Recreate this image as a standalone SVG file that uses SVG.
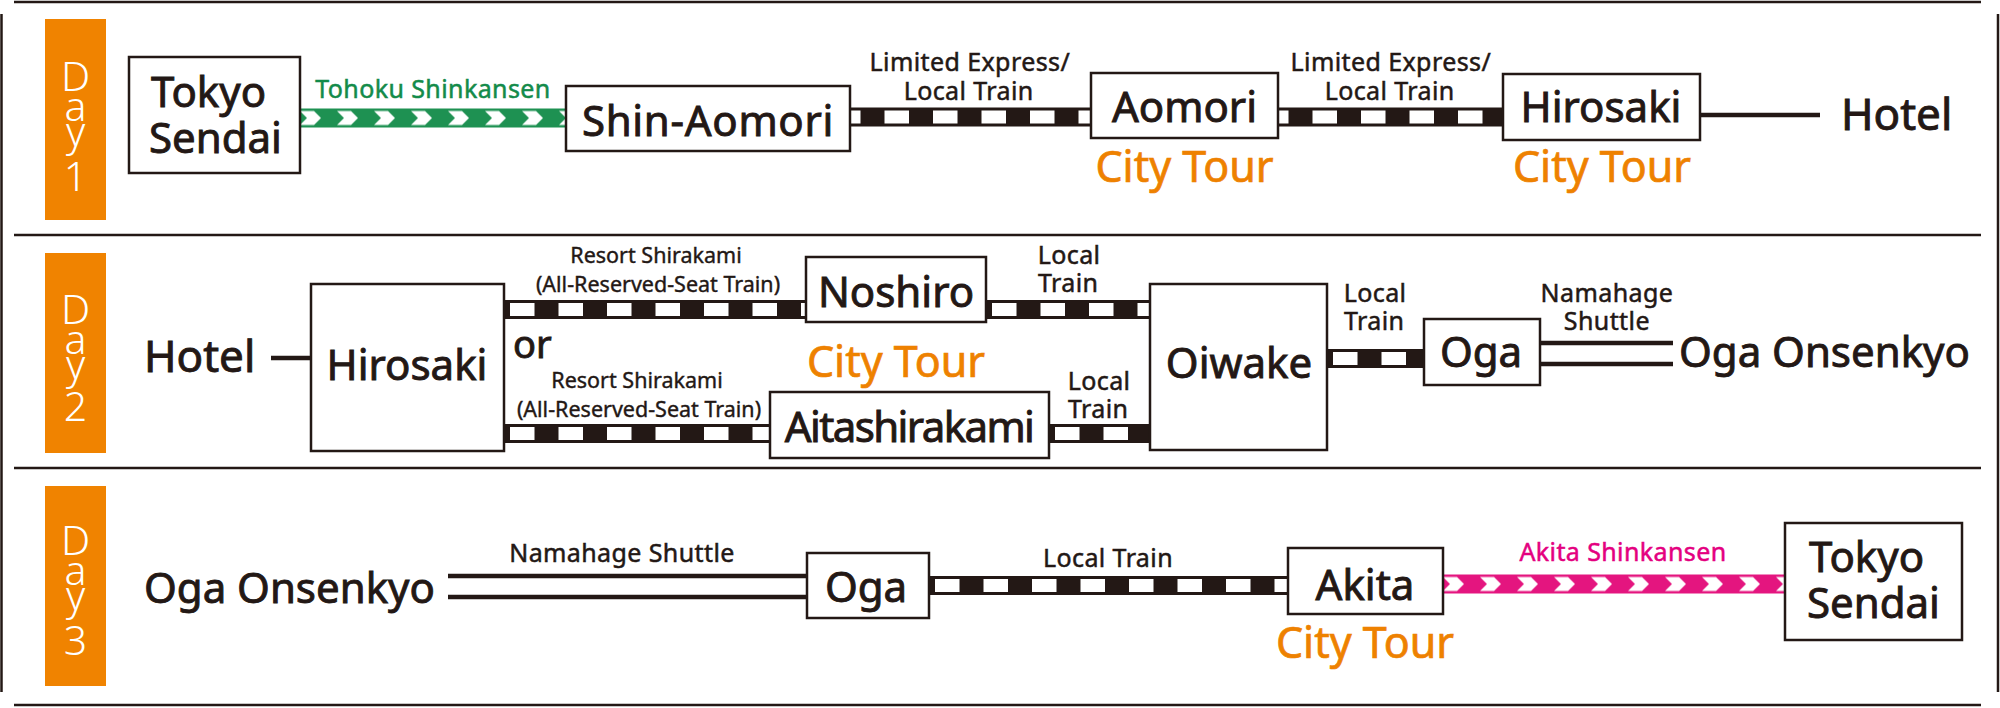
<svg xmlns="http://www.w3.org/2000/svg" width="2000" height="708" viewBox="0 0 2000 708">
<style>
text{font-family:"Noto Sans","Liberation Sans",sans-serif;fill:#231815}
.box{fill:#fff;stroke:#231815;stroke-width:2.5}
.st{font-size:42px;stroke:#231815;stroke-width:0.9}
.mid{text-anchor:middle}
.lbl{font-size:25px;letter-spacing:0.4px;stroke:#231815;stroke-width:0.5}
.c{text-anchor:middle}
.lbs{font-size:21.5px;text-anchor:middle;stroke:#231815;stroke-width:0.4}
.tour{font-size:43px;fill:#EE8100;stroke:#EE8100;stroke-width:0.7;text-anchor:middle}
.day{fill:#F08300}
.dl{fill:#fff;font-size:41px;font-weight:300;text-anchor:middle}
.frame{stroke:#231815;stroke-width:2.5;fill:none}
.blk{fill:#231815}
.dash{stroke:#fff;stroke-width:13;stroke-dasharray:24.5 24;fill:none}
.wire{stroke:#231815;stroke-width:4.5;fill:none}
</style>
<defs>
<pattern id="grn" patternUnits="userSpaceOnUse" x="300" y="108.5" width="37" height="19">
<rect width="37" height="19" fill="#1E9152"/>
<polygon points="0,2.5 14,2.5 21,9.5 14,16.5 0,16.5 7,9.5" fill="#fff"/>
</pattern>
<pattern id="pnk" patternUnits="userSpaceOnUse" x="1443" y="574.5" width="37" height="19">
<rect width="37" height="19" fill="#E4157F"/>
<polygon points="0,2.5 14,2.5 21,9.5 14,16.5 0,16.5 7,9.5" fill="#fff"/>
</pattern>
</defs>

<g id="frame">
<line class="frame" x1="14" y1="2" x2="1981" y2="2"/>
<line class="frame" x1="14" y1="235" x2="1981" y2="235"/>
<line class="frame" x1="14" y1="468" x2="1981" y2="468"/>
<line class="frame" x1="14" y1="705" x2="1981" y2="705"/>
<line class="frame" x1="1.5" y1="14" x2="1.5" y2="692"/>
<line class="frame" x1="1998" y1="14" x2="1998" y2="692"/>
</g>

<g id="day1">
<rect class="day" x="45" y="19" width="61" height="201"/>
<text class="dl" x="75.5 75.5 75.5 75.5" y="91 121 146 191">Day1</text>
</g>
<g id="day2">
<rect class="day" x="45" y="253" width="61" height="200"/>
<text class="dl" x="75.5 75.5 75.5 75.5" y="324 354 379 421">Day2</text>
</g>
<g id="day3">
<rect class="day" x="45" y="486" width="61" height="200"/>
<text class="dl" x="75.5 75.5 75.5 75.5" y="555 585 610 655">Day3</text>
</g>

<g id="connectors">
<!-- Day 1 -->
<rect x="300" y="108.5" width="266" height="19" fill="url(#grn)"/>
<text x="433" y="98" class="lbl c" style="fill:#138B4A;stroke:#138B4A">Tohoku Shinkansen</text>
<rect class="blk" x="850" y="107.5" width="241" height="19"/>
<line class="dash" x1="850" y1="117" x2="1091" y2="117" stroke-dashoffset="14"/>
<text class="lbl" x="869.5" y="71" dx="0 0 0 0 0 0 0 0 0 0 0 0 0 0 0 0 0 -173.4" dy="0 0 0 0 0 0 0 0 0 0 0 0 0 0 0 0 0 28.5">Limited Express/ Local Train</text>
<rect class="blk" x="1278" y="107.5" width="225" height="19"/>
<line class="dash" x1="1278" y1="117" x2="1503" y2="117" stroke-dashoffset="14"/>
<text class="lbl" x="1290.5" y="71" dx="0 0 0 0 0 0 0 0 0 0 0 0 0 0 0 0 0 -173.4" dy="0 0 0 0 0 0 0 0 0 0 0 0 0 0 0 0 0 28.5">Limited Express/ Local Train</text>
<line class="wire" x1="1700" y1="115" x2="1820" y2="115"/>
<!-- Day 2 -->
<line class="wire" x1="271" y1="358" x2="311" y2="358"/>
<rect class="blk" x="504" y="300" width="302" height="19"/>
<line class="dash" x1="504" y1="309.5" x2="806" y2="309.5" stroke-dashoffset="-6"/>
<text class="lbs"><tspan x="656" y="263">Resort Shirakami</tspan><tspan x="658" y="292">(All-Reserved-Seat Train)</tspan></text>
<rect class="blk" x="986" y="300" width="164" height="19"/>
<line class="dash" x1="986" y1="309.5" x2="1150" y2="309.5" stroke-dashoffset="-6"/>
<text class="lbl" x="1037.7" y="263.5" dx="0 0 0 0 0 0 -69.4" dy="0 0 0 0 0 0 28.5">Local Train</text>
<rect class="blk" x="504" y="424" width="266" height="19"/>
<line class="dash" x1="504" y1="433.5" x2="770" y2="433.5" stroke-dashoffset="-6"/>
<text class="lbs"><tspan x="637" y="388">Resort Shirakami</tspan><tspan x="639" y="417">(All-Reserved-Seat Train)</tspan></text>
<rect class="blk" x="1049" y="424" width="101" height="19"/>
<line class="dash" x1="1049" y1="433.5" x2="1150" y2="433.5" stroke-dashoffset="-6"/>
<text class="lbl" x="1067.7" y="389.5" dx="0 0 0 0 0 0 -69.4" dy="0 0 0 0 0 0 28.5">Local Train</text>
<rect class="blk" x="1327" y="349" width="97" height="19"/>
<line class="dash" x1="1327" y1="358.5" x2="1424" y2="358.5" stroke-dashoffset="-6"/>
<text class="lbl" x="1343.7" y="301.5" dx="0 0 0 0 0 0 -69.4" dy="0 0 0 0 0 0 28.5">Local Train</text>
<line class="wire" x1="1540" y1="343" x2="1673" y2="343"/>
<line class="wire" x1="1540" y1="364" x2="1673" y2="364"/>
<text class="lbl" x="1540.6" y="301.5" dx="0 0 0 0 0 0 0 0 0 -116.3" dy="0 0 0 0 0 0 0 0 0 28.5">Namahage Shuttle</text>
<!-- Day 3 -->
<line class="wire" x1="448" y1="576" x2="807" y2="576"/>
<line class="wire" x1="448" y1="597" x2="807" y2="597"/>
<text class="lbl c" x="622" y="562">Namahage Shuttle</text>
<rect class="blk" x="929" y="576" width="359" height="19"/>
<line class="dash" x1="929" y1="585.5" x2="1288" y2="585.5" stroke-dashoffset="-6"/>
<text class="lbl c" x="1108" y="567">Local Train</text>
<rect x="1443" y="574.5" width="342" height="19" fill="url(#pnk)"/>
<text class="lbl c" x="1623" y="561" style="fill:#E4007F;stroke:#E4007F">Akita Shinkansen</text>
</g>

<g id="n_tokyo1">
<rect class="box" x="129" y="57" width="171" height="116"/>
<text class="st" x="149" y="107" dx="0 0 0 0 0 0 -128" dy="0 0 0 0 0 0 46">Tokyo Sendai</text>
</g>
<g id="n_shinaomori">
<rect class="box" x="566" y="86" width="284" height="65"/>
<text class="st mid" x="708" y="136" style="letter-spacing:0.7px">Shin-Aomori</text>
</g>
<g id="n_aomori">
<rect class="box" x="1091" y="73" width="187" height="65"/>
<text class="st mid" x="1184.5" y="122">Aomori</text>
<text class="tour" x="1184.5" y="182">City Tour</text>
</g>
<g id="n_hirosaki1">
<rect class="box" x="1503" y="74" width="197" height="66"/>
<text class="st mid" x="1601" y="122">Hirosaki</text>
<text class="tour" x="1602" y="182">City Tour</text>
</g>
<g id="n_hotel1">
<text class="st" x="1841" y="130" style="font-size:44px">Hotel</text>
</g>

<g id="n_hotel2">
<text class="st" x="144" y="372" style="font-size:44px">Hotel</text>
</g>
<g id="n_hirosaki2">
<rect class="box" x="311" y="284" width="193" height="167"/>
<text class="st mid" x="407" y="380">Hirosaki</text>
</g>
<g id="t_or">
<text class="st" x="513" y="358" style="font-size:38px">or</text>
</g>
<g id="n_noshiro">
<rect class="box" x="806" y="257" width="180" height="65"/>
<text class="st mid" x="896" y="307">Noshiro</text>
<text class="tour" x="896" y="377">City Tour</text>
</g>
<g id="n_aitashirakami">
<rect class="box" x="770" y="392" width="279" height="66"/>
<text class="st mid" x="909" y="442" style="letter-spacing:-1.6px">Aitashirakami</text>
</g>
<g id="n_oiwake">
<rect class="box" x="1150" y="284" width="177" height="166"/>
<text class="st mid" x="1239" y="378">Oiwake</text>
</g>
<g id="n_oga2">
<rect class="box" x="1424" y="319" width="116" height="66"/>
<text class="st mid" x="1481" y="367">Oga</text>
</g>
<g id="n_onsen2">
<text class="st" x="1679" y="367">Oga Onsenkyo</text>
</g>

<g id="n_onsen3">
<text class="st" x="144" y="603">Oga Onsenkyo</text>
</g>
<g id="n_oga3">
<rect class="box" x="807" y="553" width="122" height="65"/>
<text class="st mid" x="866" y="602">Oga</text>
</g>
<g id="n_akita">
<rect class="box" x="1288" y="548" width="155" height="66"/>
<text class="st mid" x="1365" y="600">Akita</text>
<text class="tour" x="1365" y="658">City Tour</text>
</g>
<g id="n_tokyo3">
<rect class="box" x="1785" y="523" width="177" height="117"/>
<text class="st" x="1807" y="572" dx="0 0 0 0 0 0 -128" dy="0 0 0 0 0 0 46">Tokyo Sendai</text>
</g>
</svg>
